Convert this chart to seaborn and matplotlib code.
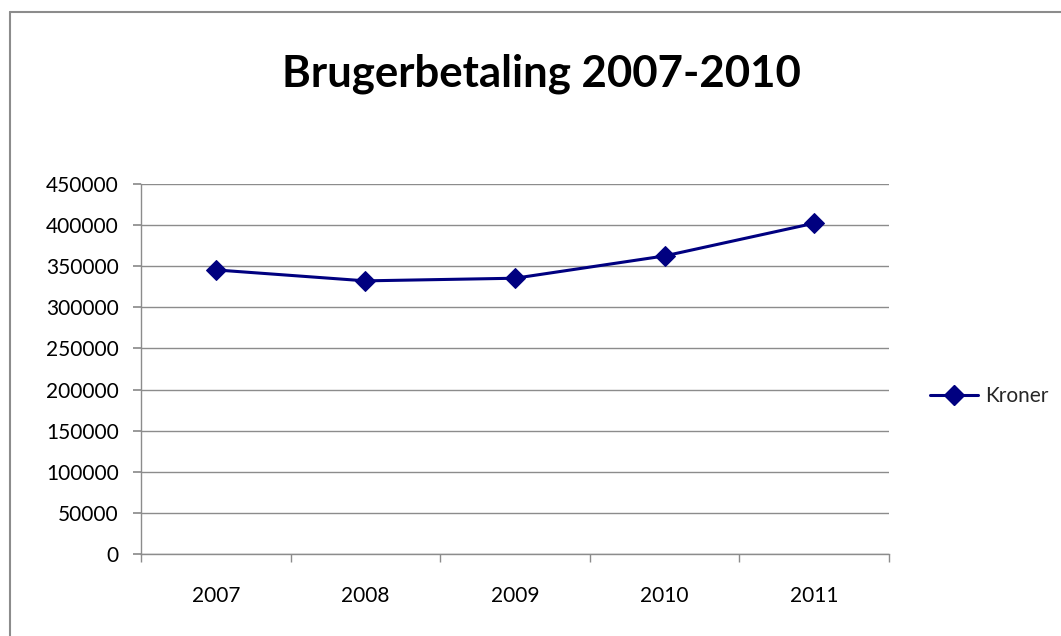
import matplotlib
matplotlib.use("Agg")
import matplotlib.pyplot as plt
import seaborn as sns
import pandas as pd
from matplotlib.lines import Line2D

years = ["2007", "2008", "2009", "2010", "2011"]
kroner = [345500, 332200, 335400, 362500, 402300]
series_name = "Kroner"
title = "Brugerbetaling 2007-2010"
yticks = list(range(0, 450001, 50000))

sns.set_theme(style="white")
plt.rcParams['font.family'] = ['Lato', 'DejaVu Sans']

fig = plt.figure(figsize=(10.61, 6.36), dpi=100)
ax = fig.add_axes([141/1061, 1-554/636, (889-141)/1061, (554-184)/636])

df = pd.DataFrame({"year": years, "value": kroner})
navy = "#000080"
sns.lineplot(data=df, x="year", y="value", ax=ax, color=navy, linewidth=2.2,
             marker="D", markersize=10.5, markeredgecolor=navy, sort=False)

ax.set_xlim(-0.5, len(years) - 0.5)
ax.set_ylim(0, 450000)
ax.set_yticks(yticks)
ax.set_yticklabels([str(v) for v in yticks])
ax.set_xticks(range(len(years)))
ax.set_xticklabels(years)
ax.set_xlabel("")
ax.set_ylabel("")
ax.yaxis.grid(True, color="#8c8c8c", linewidth=1)
ax.xaxis.grid(False)
for s in ["top", "right"]:
    ax.spines[s].set_visible(False)
for s in ["left", "bottom"]:
    ax.spines[s].set_color("#8c8c8c")
    ax.spines[s].set_linewidth(1)

# boundary tick marks on x axis
ax.set_xticks([i - 0.5 for i in range(len(years) + 1)], minor=True)
ax.tick_params(axis="x", which="major", length=0, pad=23, labelsize=15, labelcolor="black")
ax.tick_params(axis="x", which="minor", length=6, color="#8c8c8c", direction="out", bottom=True)
ax.tick_params(axis="y", length=6, color="#8c8c8c", direction="out", left=True, pad=10,
               labelsize=15, labelcolor="black")

handle = Line2D([0], [0], color=navy, linewidth=2.2, marker="D", markersize=10.5)
fig.legend([handle], [series_name], loc="center left",
           bbox_to_anchor=(922/1061, 1-396/636), frameon=False, fontsize=15,
           handlelength=2.3, handletextpad=0.35, borderaxespad=0)
if ax.get_legend() is not None:
    ax.get_legend().remove()

fig.text(541/1061, 1-87/636, title, ha="center", va="baseline", fontsize=31.5,
         fontweight="bold", color="black")

# chart area border
fig.add_artist(Line2D([10/1061, 10/1061], [0, 1-12/636], color="#8c8c8c", linewidth=1.5,
                      transform=fig.transFigure))
fig.add_artist(Line2D([10/1061, 1], [1-12/636, 1-12/636], color="#8c8c8c", linewidth=1.5,
                      transform=fig.transFigure))

fig.savefig("out.png", dpi=100, facecolor="white")
